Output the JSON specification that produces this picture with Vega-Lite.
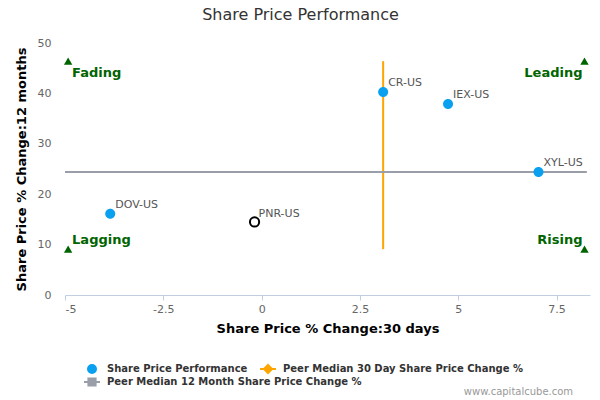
{
  "$schema": "https://vega.github.io/schema/vega-lite/v6.json",
  "autosize": {"type": "none"},
  "width": 525,
  "height": 252,
  "padding": {"left": 65, "top": 43, "right": 10, "bottom": 105},
  "background": "white",
  "config": {
    "font": "DejaVu Sans",
    "view": {"stroke": null}
  },
  "title": {
    "text": "Share Price Performance",
    "fontSize": 16,
    "fontWeight": "normal",
    "color": "#333333",
    "anchor": "middle",
    "dx": -27,
    "offset": 14
  },
  "datasets": {
    "peers": [
      {"ticker": "CR-US", "x": 3.09, "y": 40.3, "series": "Share Price Performance"},
      {"ticker": "IEX-US", "x": 4.74, "y": 37.9, "series": "Share Price Performance"},
      {"ticker": "XYL-US", "x": 7.04, "y": 24.4, "series": "Share Price Performance"},
      {"ticker": "DOV-US", "x": -3.85, "y": 16.1, "series": "Share Price Performance"}
    ],
    "subject": [
      {"ticker": "PNR-US", "x": -0.18, "y": 14.5}
    ],
    "median30": [
      {"series": "Peer Median 30 Day Share Price Change %", "x": 3.09, "x2": 3.09, "y": 9.1, "y2": 46.4}
    ],
    "median12": [
      {"series": "Peer Median 12 Month Share Price Change %", "x": -5, "x2": 8.27, "y": 24.4, "y2": 24.4}
    ],
    "quadrants": [
      {"label": "Fading", "x": -4.92, "y": 46.4},
      {"label": "Lagging", "x": -4.92, "y": 9.1},
      {"label": "Leading", "x": 8.21, "y": 46.4},
      {"label": "Rising", "x": 8.21, "y": 9.1}
    ],
    "quadrantLabels": [
      {"label": "Fading", "x": -4.82, "y": 44.0, "side": "left"},
      {"label": "Lagging", "x": -4.82, "y": 10.9, "side": "left"},
      {"label": "Leading", "x": 8.16, "y": 44.0, "side": "right"},
      {"label": "Rising", "x": 8.16, "y": 10.9, "side": "right"}
    ],
    "credit": [
      {"text": "www.capitalcube.com", "x": 7.92, "y": -19.3}
    ]
  },
  "encoding": {
    "x": {
      "field": "x",
      "type": "quantitative",
      "title": "Share Price % Change:30 days",
      "scale": {"domain": [-5, 8.35], "nice": false, "zero": false},
      "axis": {
        "values": [-5, -2.5, 0, 2.5, 5, 7.5],
        "format": ".1~f",
        "labelExpr": "replace(datum.label, '\u2212', '-')",
        "grid": false,
        "domainColor": "#c0d0e0",
        "tickColor": "#c0d0e0",
        "tickSize": 5,
        "labelColor": "#666666",
        "labelFontSize": 11,
        "labelPadding": 3,
        "titleFontSize": 13,
        "titleFontWeight": "bold",
        "titleColor": "#000000",
        "titlePadding": 8
      }
    },
    "y": {
      "field": "y",
      "type": "quantitative",
      "title": "Share Price % Change:12 months",
      "scale": {"domain": [0, 50], "nice": false},
      "axis": {
        "values": [0, 10, 20, 30, 40, 50],
        "grid": false,
        "domain": false,
        "ticks": false,
        "labelColor": "#666666",
        "labelFontSize": 11,
        "labelPadding": 14,
        "titleFontSize": 13,
        "titleFontWeight": "bold",
        "titleColor": "#000000",
        "titlePadding": 9
      }
    }
  },
  "layer": [
    {
      "data": {"name": "median30"},
      "mark": {"type": "rule", "strokeWidth": 2, "color": "#ffa500"},
      "encoding": {
        "x2": {"field": "x2"},
        "y2": {"field": "y2"}
      }
    },
    {
      "data": {"name": "median12"},
      "mark": {"type": "rule", "strokeWidth": 2, "color": "#9a9ea8"},
      "encoding": {
        "x2": {"field": "x2"},
        "y2": {"field": "y2"},
        "strokeDash": {
          "field": "series",
          "type": "nominal",
          "title": null,
          "scale": {"domain": ["Peer Median 12 Month Share Price Change %"], "range": [[1, 0]]},
          "legend": {
            "orient": "none",
            "legendX": 18,
            "legendY": 330,
            "symbolType": "M-1,0L1,0M-0.45,-0.45L0.45,-0.45L0.45,0.45L-0.45,0.45Z",
            "symbolSize": 256,
            "symbolStrokeWidth": 2,
            "symbolStrokeColor": "#9a9ea8",
            "symbolFillColor": "#9a9ea8",
            "labelFontSize": 10,
            "labelFontWeight": "bold",
            "labelColor": "#333333",
            "labelOffset": 6,
            "labelLimit": 0
          }
        }
      }
    },
    {
      "data": {"name": "peers"},
      "mark": {"type": "point", "filled": true, "opacity": 1, "size": 400, "strokeWidth": 0},
      "encoding": {
        "fill": {
          "field": "series",
          "type": "nominal",
          "title": null,
          "scale": {
            "domain": ["Share Price Performance", "Peer Median 30 Day Share Price Change %"],
            "range": ["#0aa0f0", "#ffa500"]
          },
          "legend": {
            "orient": "none",
            "legendX": 18,
            "legendY": 317,
            "direction": "horizontal",
            "columnPadding": 8,
            "symbolSize": 256,
            "symbolStrokeWidth": 2,
            "symbolOpacity": 1,
            "labelFontSize": 10,
            "labelFontWeight": "bold",
            "labelColor": "#333333",
            "labelOffset": 6,
            "labelLimit": 0
          }
        },
        "stroke": {
          "field": "series",
          "type": "nominal",
          "title": null,
          "scale": {
            "domain": ["Share Price Performance", "Peer Median 30 Day Share Price Change %"],
            "range": ["#0aa0f0", "#ffa500"]
          }
        },
        "shape": {
          "field": "series",
          "type": "nominal",
          "title": null,
          "scale": {
            "domain": ["Share Price Performance", "Peer Median 30 Day Share Price Change %"],
            "range": [
              "M-0.5,0A0.5,0.5 0 1,0 0.5,0A0.5,0.5 0 1,0 -0.5,0Z",
              "M-1,0L1,0M0,-0.5L0.5,0L0,0.5L-0.5,0Z"
            ]
          }
        }
      }
    },
    {
      "data": {"name": "peers"},
      "mark": {"type": "text", "align": "left", "baseline": "middle", "dx": 5, "dy": -9, "fontSize": 11, "color": "#555555"},
      "encoding": {
        "text": {"field": "ticker"}
      }
    },
    {
      "data": {"name": "subject"},
      "mark": {"type": "point", "shape": "circle", "size": 85, "filled": false, "stroke": "black", "strokeWidth": 2, "fill": "white", "opacity": 1},
      "encoding": {}
    },
    {
      "data": {"name": "subject"},
      "mark": {"type": "text", "align": "left", "baseline": "middle", "dx": 4, "dy": -8, "fontSize": 11, "color": "#555555"},
      "encoding": {
        "text": {"field": "ticker"}
      }
    },
    {
      "data": {"name": "quadrants"},
      "mark": {"type": "point", "shape": "triangle-up", "filled": true, "size": 70, "color": "#006400", "opacity": 1},
      "encoding": {}
    },
    {
      "data": {"name": "quadrantLabels"},
      "transform": [{"filter": "datum.side == 'left'"}],
      "mark": {"type": "text", "align": "left", "baseline": "middle", "fontSize": 13, "fontWeight": "bold", "color": "#006400"},
      "encoding": {
        "text": {"field": "label"}
      }
    },
    {
      "data": {"name": "quadrantLabels"},
      "transform": [{"filter": "datum.side == 'right'"}],
      "mark": {"type": "text", "align": "right", "baseline": "middle", "fontSize": 13, "fontWeight": "bold", "color": "#006400"},
      "encoding": {
        "text": {"field": "label"}
      }
    },
    {
      "data": {"name": "credit"},
      "mark": {"type": "text", "align": "right", "baseline": "middle", "fontSize": 10, "color": "#999999"},
      "encoding": {
        "text": {"field": "text"}
      }
    }
  ]
}
